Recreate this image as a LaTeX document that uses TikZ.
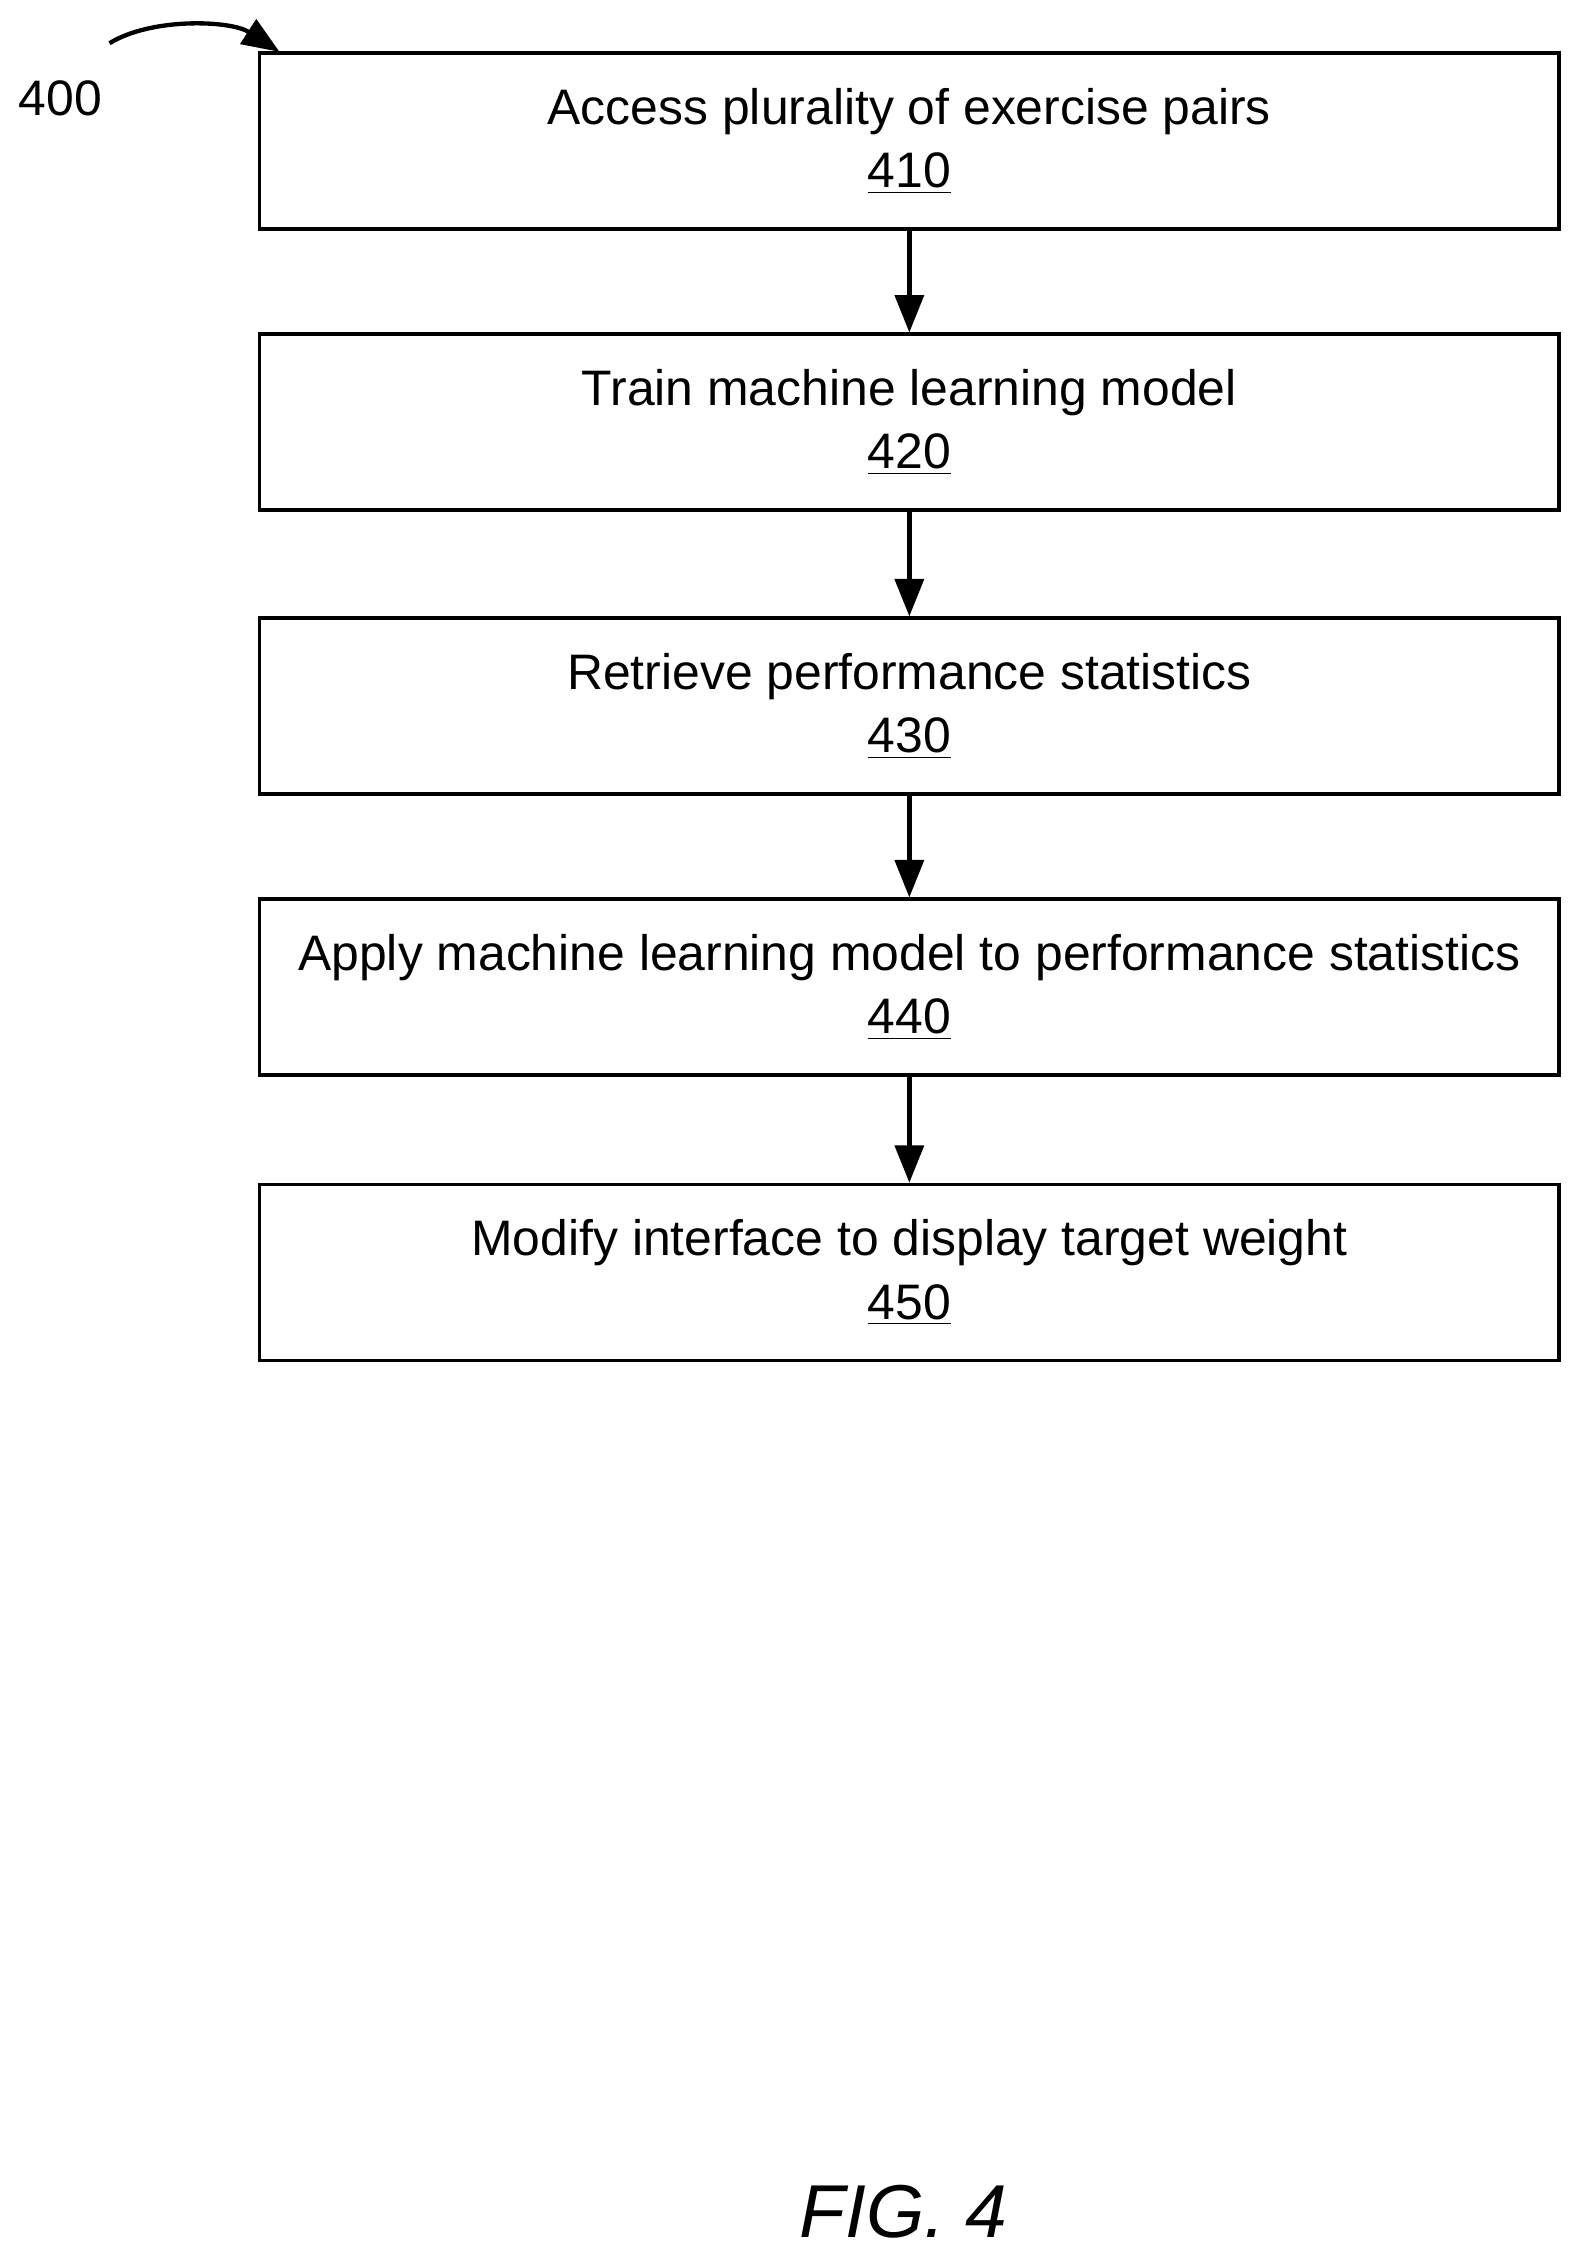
\documentclass[tikz,border=0pt]{standalone}
\usepackage{fontspec}
\setmainfont{Liberation Sans}
\usetikzlibrary{arrows.meta}
\tikzstyle{stepbox}=[draw, line width=1.3pt, minimum width=451pt, minimum height=61pt, align=center, inner sep=0pt, font=\fontsize{17.3}{21}\selectfont]
\tikzstyle{arrow}=[line width=1.5pt, -{Triangle[length=13pt,width=10pt]}]

\begin{document}
\begin{tikzpicture}[x=0.5pt, y=-0.5pt]
      \useasboundingbox (0,0) rectangle (1100,1571);
      \node[stepbox] (s410) at (631, 98) {Access plurality of exercise pairs\\[1pt]\underline{410}};
      \node[stepbox] (s420) at (631, 293) {Train machine learning model\\[1pt]\underline{420}};
      \node[stepbox] (s430) at (631, 490) {Retrieve performance statistics\\[1pt]\underline{430}};
      \node[stepbox] (s440) at (631, 685) {Apply machine learning model to performance statistics\\[1pt]\underline{440}};
      \node[stepbox] (s450) at (631, 883) {Modify interface to display target weight\\[1pt]\underline{450}};

      \draw[arrow] (s410) to (s420);
      \draw[arrow] (s420) to (s430);
      \draw[arrow] (s430) to (s440);
      \draw[arrow] (s440) to (s450);

      \node[font=\fontsize{17.3}{21}\selectfont] (lbl) at (42, 68) {400};
      \coordinate (tip) at (194, 36);
      \draw[arrow] (76, 30) .. controls (105, 12) and (160, 14) .. (tip);

      \node[font=\fontsize{26}{30}\selectfont\itshape] (fig) at (627, 1535) {FIG. 4};
    \end{tikzpicture}
\end{document}
